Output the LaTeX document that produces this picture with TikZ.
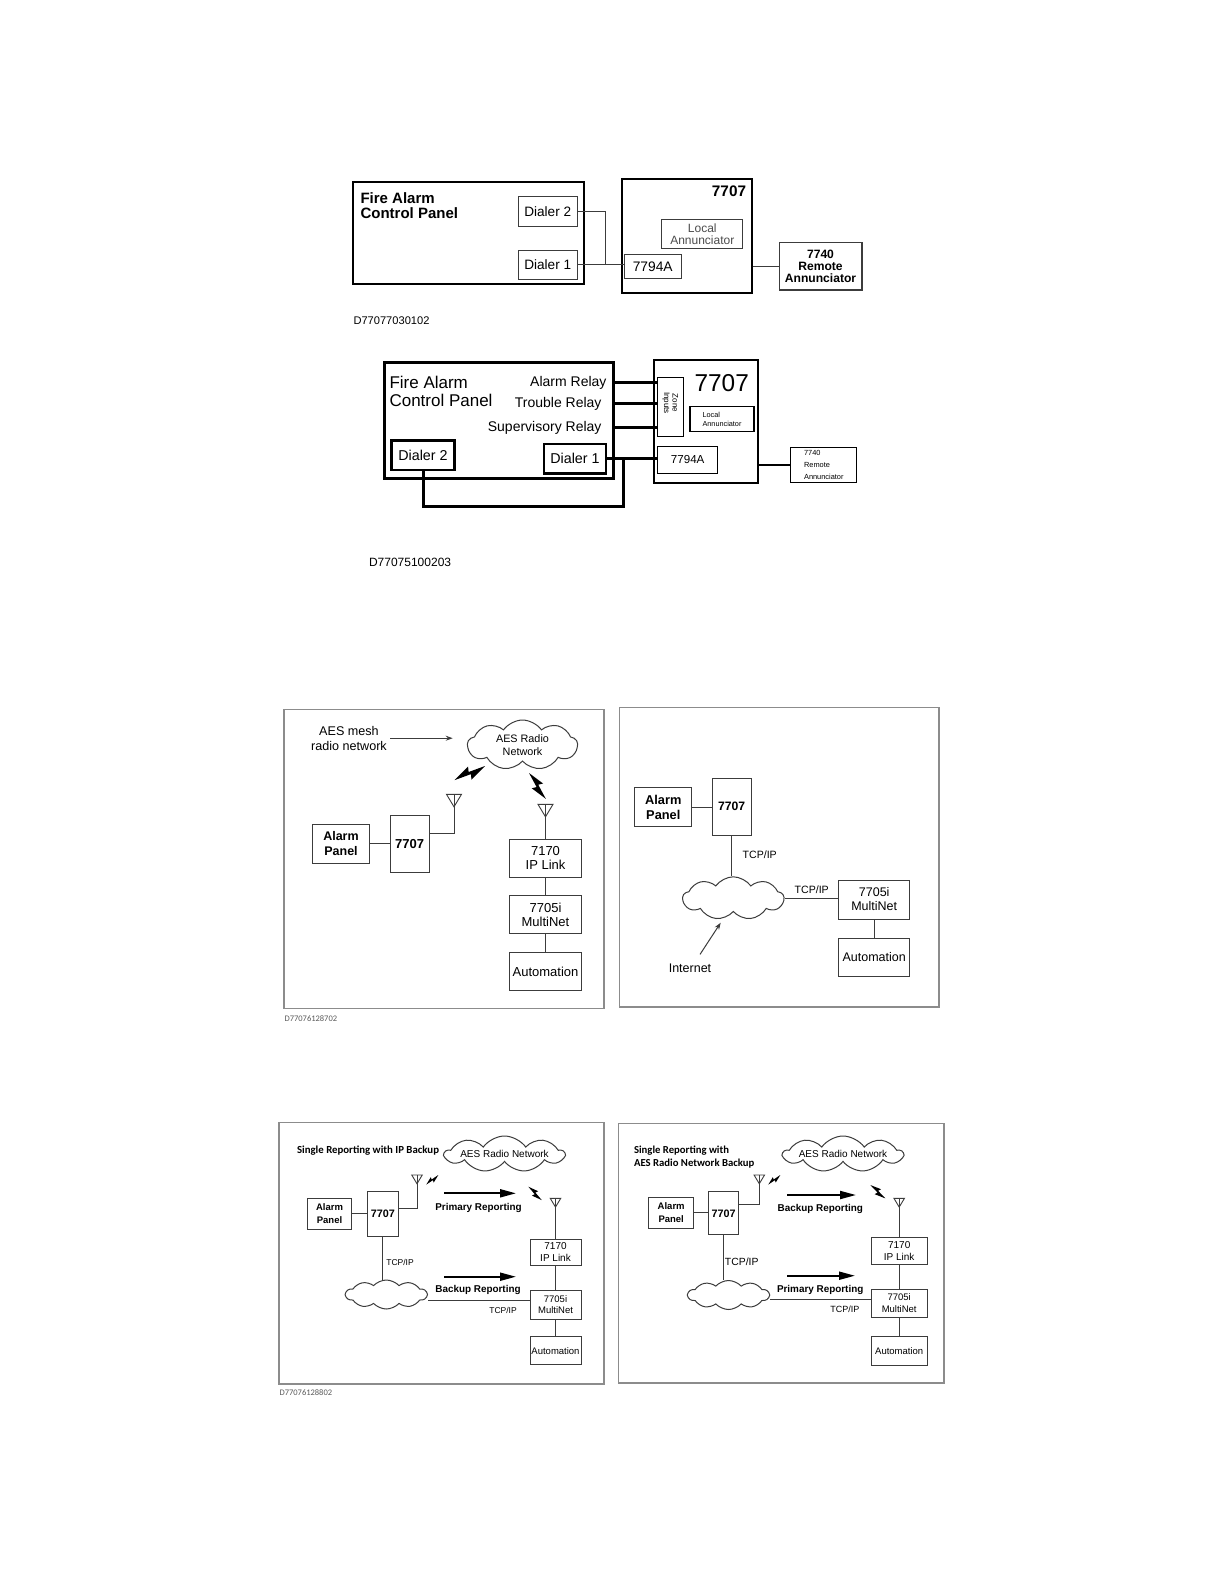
\documentclass[tikz,border=0pt]{standalone}
\usepackage{fontspec}
\setmainfont{Liberation Sans}
\newfontfamily\calfont{Carlito}
\usetikzlibrary{
  arrows.meta,
  positioning,
  calc,
  shapes.symbols
}
\definecolor{LineGray}{RGB}{60,60,60}
\definecolor{FrameGray}{RGB}{140,140,140}
\definecolor{TagGray}{RGB}{90,90,90}
\tikzset{
  regtext/.style n args={2}{font=\fontsize{#1}{#2}\selectfont},
  boldtext/.style n args={2}{font=\fontsize{#1}{#2}\selectfont\bfseries},
  calbold/.style n args={2}{font=\calfont\fontsize{#1}{#2}\selectfont\bfseries},
  calreg/.style n args={2}{font=\calfont\fontsize{#1}{#2}\selectfont},
  box/.style={draw=LineGray, line width=1pt, inner sep=0pt, align=center},
  heavybox/.style={box, draw=black, line width=2pt},
  framebox/.style={draw=FrameGray, line width=1.3pt, inner sep=0pt},
  wire/.style={draw=LineGray, line width=1pt},
  heavywire/.style={draw=black, line width=3pt},
  netcloud/.style={cloud, cloud puffs=9, cloud puff arc=110, cloud ignores aspect,
    draw=LineGray, line width=1pt, inner sep=0pt, align=center},
  flatcloud/.style={netcloud, cloud puffs=10, cloud puff arc=95},
  reportarrow/.style={-{Triangle[length=16pt,width=8pt]}, line width=2pt},
  thinarrow/.style={-{Stealth[length=7pt,width=5pt]}, line width=1pt, draw=LineGray},
  antenna/.pic={
    \draw[LineGray, line width=0.9pt] (-7.5,0) -- (7.5,0) -- (0,12.5) -- cycle;
    \coordinate (-top) at (0,0);
  },
  bolt/.pic={
    \fill (0,0) -- (15,-5.5) -- (13.5,-1.2) -- (28,0) -- (13,5.5) -- (14.5,1.2) -- cycle;
  }
}

\begin{document}
\begin{tikzpicture}[x=1pt, y=-1pt]
  \fill[white] (0,0) rectangle (1224,1584);
  \useasboundingbox (0,0) rectangle (1224,1584);

  % dialer wiring
  \node[heavybox, minimum width=231pt, minimum height=102pt] (facpA) at (468.5,233) {};
  \node[boldtext={15}{15.6}, anchor=west, align=left] (facpAtxt) at (357,205.5) {Fire Alarm\\Control Panel};
  \node[box, regtext={13.6}{15}, minimum width=58.7pt, minimum height=29.3pt] (dialTwoA) at (547.7,211.4) {Dialer 2};
  \node[box, regtext={13.6}{15}, minimum width=58.7pt, minimum height=29pt] (dialOneA) at (547.7,264.8) {Dialer 1};
  \node[heavybox, minimum width=130.6pt, minimum height=113.7pt] (mainA) at (687,235.8) {};
  \node[boldtext={15.3}{16}] (mainAtxt) at (729,191.7) {7707};
  \node[box, regtext={12}{12}, text=black!70, minimum width=81.3pt, minimum height=29.4pt] (localA) at (702.3,234) {Local\\Annunciator};
  \node[box, regtext={13.8}{15}, minimum width=57.3pt, minimum height=24.6pt] (moduleA) at (652.7,266.5) {7794A};
  \node[box, line width=1.6pt, boldtext={12.1}{12}, minimum width=82.4pt, minimum height=47.3pt] (remoteA) at (820.5,266.3) {7740\\Remote\\Annunciator};
  \coordinate (tapA) at (605.7,264.8);
  \draw[wire] (dialOneA.east) -- (dialOneA.east -| moduleA.west);
  \draw[wire] (dialTwoA.east) -| (tapA);
  \draw[wire] (remoteA.west -| mainA.east) -- (remoteA.west);
  \node[regtext={11.1}{13}, anchor=west] (tagA) at (350,320.7) {D77077030102};

  % relay wiring
  \node[heavybox, line width=3pt, minimum width=229pt, minimum height=116pt] (facpB) at (498.8,420.3) {};
  \node[regtext={17}{17.3}, anchor=west, align=left] (facpBtxt) at (386,391.3) {Fire Alarm\\Control Panel};
  \node[regtext={14}{15}, anchor=east] (alarmRelay) at (610,382.7) {Alarm Relay};
  \node[regtext={14}{15}, anchor=east] (troubleRelay) at (605,403.5) {Trouble Relay};
  \node[regtext={14}{15}, anchor=east] (supervRelay) at (605,427.5) {Supervisory Relay};
  \node[heavybox, line width=2.5pt, regtext={14.3}{16}, minimum width=62.6pt, minimum height=29.3pt] (dialTwoB) at (423,455.3) {Dialer 2};
  \node[heavybox, line width=2.5pt, regtext={14.3}{16}, minimum width=62pt, minimum height=29.3pt] (dialOneB) at (575,458.7) {Dialer 1};
  \node[heavybox, minimum width=103.7pt, minimum height=123.3pt] (mainB) at (705.8,421.7) {};
  \node[regtext={24.4}{26}] (mainBtxt) at (721.7,383.3) {7707};
  \node[box, draw=black, line width=1.5pt, minimum width=26pt, minimum height=59.4pt] (zoneB) at (670.3,407) {};
  \node[regtext={8}{8.5}, rotate=-90, align=center] (zoneBtxt) at (670.3,403) {Zone\\Inputs};
  \node[box, draw=black, line width=1.5pt, regtext={7.3}{9}, align=left, minimum width=64pt, minimum height=25pt] (localB) at (722,419.2) {Local\\Annunciator};
  \node[box, draw=black, line width=1.5pt, regtext={11.6}{14}, minimum width=60pt, minimum height=26.6pt] (moduleB) at (687.7,460) {7794A};
  \node[box, draw=black, regtext={7.4}{12}, align=left, minimum width=65.7pt, minimum height=35pt] (remoteB) at (823.8,464.8) {7740\\Remote\\Annunciator};
  \coordinate (loopB) at (623.3,506.7);
  \draw[heavywire] (alarmRelay.east -| facpB.east) -- (alarmRelay.east -| zoneB.west);
  \draw[heavywire] (troubleRelay.east -| facpB.east) -- (troubleRelay.east -| zoneB.west);
  \draw[heavywire] (supervRelay.east -| facpB.east) -- (supervRelay.east -| zoneB.west);
  \draw[heavywire] (dialOneB.east) -- (dialOneB.east -| moduleB.west);
  \draw[heavywire] (dialTwoB.south) |- (loopB) -- (loopB |- dialOneB.east);
  \draw[heavywire, line width=2.5pt] (remoteB.west -| mainB.east) -- (remoteB.west);
  \node[regtext={12}{14}, anchor=west] (tagB) at (365.5,562) {D77075100203};

  % mesh radio network
  \node[framebox, minimum width=320pt, minimum height=299pt] (frameC) at (444,858.8) {};
  \node[regtext={12.6}{15}, align=center] (meshC) at (349,738.2) {AES mesh\\radio network};
  \node[netcloud, regtext={10.8}{13.3}, minimum width=110pt, minimum height=50pt] (radioC) at (522.5,745) {AES Radio\\Network};
  \draw[thinarrow, shorten >=14pt] (meshC.east) -- (meshC.east -| radioC.west);
  \pic[rotate=204.9, scale=1.2] at (485,766) {bolt};
  \pic[rotate=-56.9, scale=1.1] at (529,773) {bolt};
  \node[box, boldtext={12.5}{15}, minimum width=56.6pt, minimum height=39pt] (panelC) at (341,843.8) {Alarm\\Panel};
  \node[box, boldtext={13}{15}, minimum width=39.3pt, minimum height=57pt] (mainC) at (409.7,844.2) {7707};
  \pic (antC) at (454,794.3) {antenna};
  \node[box, regtext={13}{14}, minimum width=71.4pt, minimum height=38pt] (linkC) at (545.5,858.3) {7170\\IP Link};
  \node[box, regtext={13}{14}, minimum width=71.4pt, minimum height=38.3pt] (multiC) at (545.5,914.8) {7705i\\MultiNet};
  \node[box, regtext={13}{14}, minimum width=71.4pt, minimum height=38.4pt] (autoC) at (545.5,971.5) {Automation};
  \pic (antCr) at (545.5,804.3) {antenna};
  \draw[wire] (panelC.east) -- (panelC.east -| mainC.west);
  \draw[wire] (antC-top) |- ([yshift=11pt]mainC.east);
  \draw[wire] (antCr-top) -- (linkC.north);
  \draw[wire] (linkC) -- (multiC);
  \draw[wire] (multiC) -- (autoC);
  \node[calreg={8.5}{10}, text=TagGray, anchor=west] (tagC) at (281,1018.5) {D77076128702};

  % internet reporting
  \node[framebox, minimum width=319.7pt, minimum height=299.7pt] (frameD) at (779.2,857.2) {};
  \node[box, boldtext={12.8}{15}, minimum width=57.3pt, minimum height=39.4pt] (panelD) at (663.3,807) {Alarm\\Panel};
  \node[box, boldtext={12.2}{15}, minimum width=39.3pt, minimum height=56.7pt] (mainD) at (731.7,806.7) {7707};
  \node[netcloud, minimum width=101pt, minimum height=43pt] (netD) at (733.3,898.3) {};
  \node[box, regtext={12.5}{14}, minimum width=70.5pt, minimum height=39pt] (multiD) at (874.2,899.5) {7705i\\MultiNet};
  \node[box, regtext={12.5}{14}, minimum width=70.5pt, minimum height=38.4pt] (autoD) at (874.2,957.5) {Automation};
  \node[regtext={10.6}{12}] (tcpDa) at (759.7,855) {TCP/IP};
  \node[regtext={10.6}{12}] (tcpDb) at (811.7,890) {TCP/IP};
  \node[regtext={12.5}{14}] (inetD) at (690,968.3) {Internet};
  \coordinate (inetTip) at (720.7,922.7);
  \draw[wire] (panelD.east) -- (panelD.east -| mainD.west);
  \draw[wire] (mainD.south) -- (mainD.south |- netD.north);
  \draw[wire] (netD.east) -- (netD.east -| multiD.west);
  \draw[wire] (multiD) -- (autoD);
  \draw[thinarrow] ([shift={(10,-6)}]inetD.north) -- (inetTip);

  % radio primary, IP backup
  \node[framebox, minimum width=325pt, minimum height=261.3pt] (frameE) at (441.5,1253.3) {};
  \node[calbold={10.8}{12.3}, anchor=west] (titleE) at (293.5,1151) {Single Reporting with IP Backup};
  \node[netcloud, regtext={10}{12}, minimum width=116.6pt, minimum height=36pt] (radioE) at (504.5,1154) {AES Radio Network};
  \node[box, boldtext={9.5}{13.3}, minimum width=44.4pt, minimum height=30.7pt] (panelE) at (329.5,1213.7) {Alarm\\Panel};
  \node[box, boldtext={10.8}{13}, minimum width=31pt, minimum height=45pt] (mainE) at (382.8,1214.2) {7707};
  \pic[scale=0.7] (antE) at (417,1175) {antenna};
  \pic[scale=0.7] (antEr) at (555.5,1198.3) {antenna};
  \pic[rotate=218.7, scale=0.55] at (438.3,1175) {bolt};
  \pic[rotate=-44.8, scale=0.68] at (528.3,1186.7) {bolt};
  \node[box, regtext={10}{11.7}, minimum width=51pt, minimum height=25.7pt] (linkE) at (555.5,1252.2) {7170\\IP Link};
  \node[box, regtext={9.5}{11.7}, minimum width=51pt, minimum height=29.3pt] (multiE) at (555.5,1304.7) {7705i\\MultiNet};
  \node[box, regtext={9.5}{11.7}, minimum width=51pt, minimum height=28.3pt] (autoE) at (555.5,1350.8) {Automation};
  \node[flatcloud, minimum width=81pt, minimum height=29pt] (netE) at (386.3,1294.5) {};
  \node[regtext={8.5}{10}] (tcpEa) at (400,1262) {TCP/IP};
  \node[regtext={8.5}{10}] (tcpEb) at (503,1310) {TCP/IP};
  \coordinate (primEs) at (444,1193.3);
  \coordinate (primEe) at (516,1193.3);
  \coordinate (backEs) at (444,1276.7);
  \coordinate (backEe) at (516,1276.7);
  \draw[reportarrow] (primEs) -- (primEe);
  \draw[reportarrow] (backEs) -- (backEe);
  \node[boldtext={9.9}{12}] (primE) at (478.5,1208.3) {Primary Reporting};
  \node[boldtext={9.9}{12}] (backE) at (478,1290) {Backup Reporting};
  \draw[wire] (panelE.east) -- (panelE.east -| mainE.west);
  \draw[wire] (antE-top) |- ([yshift=5.9pt]mainE.east);
  \draw[wire] (antEr-top) -- (linkE.north);
  \draw[wire] (mainE.south) -- (mainE.south |- netE.north);
  \draw[wire] ([yshift=-6pt]netE.east) -- ([yshift=-6pt]netE.east -| multiE.west);
  \draw[wire] (linkE) -- (multiE);
  \draw[wire] (multiE) -- (autoE);
  \node[calreg={8.5}{10}, text=TagGray, anchor=west] (tagE) at (276,1393) {D77076128802};

  % IP primary, radio backup
  \node[framebox, minimum width=325.3pt, minimum height=259.7pt] (frameF) at (781.3,1253.2) {};
  \node[calbold={10.7}{12.3}, anchor=west, align=left] (titleF) at (630.5,1157.2) {Single Reporting with\\AES Radio Network Backup};
  \node[netcloud, regtext={10}{12}, minimum width=114pt, minimum height=36pt] (radioF) at (843,1154) {AES Radio Network};
  \node[box, boldtext={9.5}{13.3}, minimum width=45pt, minimum height=31pt] (panelF) at (671.2,1212.8) {Alarm\\Panel};
  \node[box, boldtext={10.8}{13}, minimum width=30pt, minimum height=43.3pt] (mainF) at (723.7,1213.3) {7707};
  \pic[scale=0.7] (antF) at (759.3,1175) {antenna};
  \pic[scale=0.7] (antFr) at (899.2,1198.3) {antenna};
  \pic[rotate=218.7, scale=0.55] at (780.3,1175) {bolt};
  \pic[rotate=-41.6, scale=0.72] at (870.3,1185) {bolt};
  \node[box, regtext={10}{11.7}, minimum width=55.7pt, minimum height=27pt] (linkF) at (899.2,1250.8) {7170\\IP Link};
  \node[box, regtext={9.5}{11.7}, minimum width=55.7pt, minimum height=28.3pt] (multiF) at (899.2,1303.2) {7705i\\MultiNet};
  \node[box, regtext={9.5}{11.7}, minimum width=55.7pt, minimum height=29.3pt] (autoF) at (899.2,1351.3) {Automation};
  \node[flatcloud, minimum width=81pt, minimum height=29pt] (netF) at (728.5,1295) {};
  \node[regtext={10.4}{12}] (tcpFa) at (741.7,1261.7) {TCP/IP};
  \node[regtext={9}{10}] (tcpFb) at (844.8,1309.3) {TCP/IP};
  \coordinate (backFs) at (787,1195);
  \coordinate (backFe) at (856,1195);
  \coordinate (primFs) at (787,1275.7);
  \coordinate (primFe) at (855,1275.7);
  \draw[reportarrow] (backFs) -- (backFe);
  \draw[reportarrow] (primFs) -- (primFe);
  \node[boldtext={9.9}{12}] (backF) at (820.3,1209) {Backup Reporting};
  \node[boldtext={9.9}{12}] (primF) at (820.2,1290) {Primary Reporting};
  \draw[wire] (panelF.east) -- (panelF.east -| mainF.west);
  \draw[wire] (antF-top) |- ([yshift=9pt]mainF.east);
  \draw[wire] (antFr-top) -- (linkF.north);
  \draw[wire] (mainF.south) -- (mainF.south |- netF.north);
  \draw[wire] ([yshift=-4pt]netF.east) -- ([yshift=-4pt]netF.east -| multiF.west);
  \draw[wire] (linkF) -- (multiF);
  \draw[wire] (multiF) -- (autoF);
\end{tikzpicture}
\end{document}
